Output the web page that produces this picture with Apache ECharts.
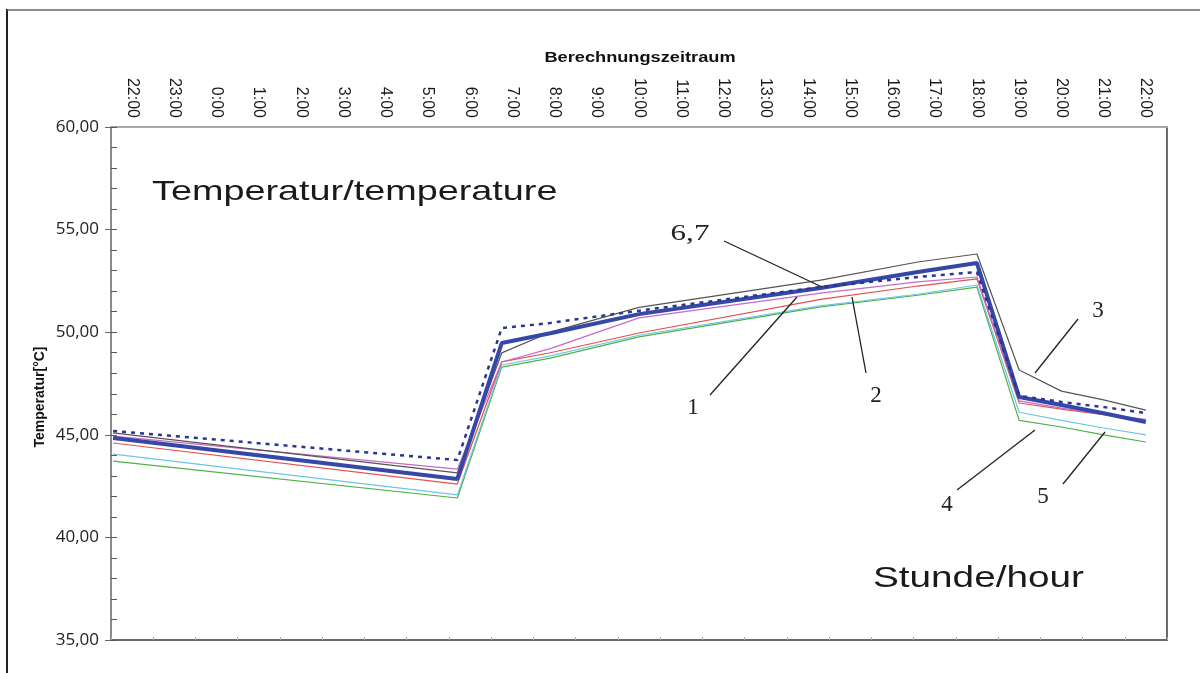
<!DOCTYPE html>
<html>
<head>
<meta charset="utf-8">
<script src="https://cdn.jsdelivr.net/npm/echarts@6/dist/echarts.min.js"></script>
<style>
  html, body { margin: 0; padding: 0; background: #ffffff; }
  #chart { width: 1200px; height: 673px; }
</style>
</head>
<body>
<div id="chart"></div>
<script>
// ---- Data ----
const hourLabels = ['22:00','23:00','0:00','1:00','2:00','3:00','4:00','5:00','6:00','7:00','8:00','9:00','10:00',
  '11:00','12:00','13:00','14:00','15:00','16:00','17:00','18:00','19:00','20:00','21:00','22:00'];
// sample positions in hours after the first 22:00 label
const tHours = [-0.45, 7.7, 8.75, 9.9, 12, 16.3, 18.6, 20, 21, 22, 23, 24];
const lineGreen = [43.72, 41.92, 48.30, 48.74, 49.77, 51.23, 51.80, 52.20, 45.70, 45.38, 45.00, 44.65];
const lineCyan  = [44.06, 42.07, 48.40, 48.85, 49.85, 51.28, 51.85, 52.30, 46.10, 45.70, 45.33, 45.00];
const lineRed   = [44.60, 42.60, 48.55, 49.00, 49.96, 51.60, 52.25, 52.60, 46.55, 46.25, 45.98, 45.72];
const linePink  = [44.94, 43.33, 48.55, 49.20, 50.70, 51.90, 52.45, 52.69, 46.65, 46.30, 46.00, 45.75];
const lineGray  = [45.09, 43.14, 48.99, 50.00, 51.21, 52.54, 53.42, 53.81, 48.16, 47.13, 46.70, 46.20];
const lineThick = [44.84, 42.85, 49.47, 49.95, 50.88, 52.15, 52.93, 53.37, 46.84, 46.45, 46.05, 45.62];
const lineDot   = [45.19, 43.77, 50.20, 50.45, 51.05, 52.20, 52.69, 52.93, 46.90, 46.60, 46.35, 46.06];
const yTicks = [35, 40, 45, 50, 55, 60];

const pairs = vals => tHours.map((t, i) => [t, vals[i]]);

const chart = echarts.init(document.getElementById('chart'), null, { renderer: 'canvas' });

function thin(name, data, color) {
  return { name, type: 'line', xAxisIndex: 1, yAxisIndex: 0, data: pairs(data), symbol: 'none',
    lineStyle: { color, width: 1.2 }, z: 2, silent: true };
}

const option = {
  animation: false,
  backgroundColor: '#ffffff',
  textStyle: { fontFamily: 'Liberation Sans, Arial, sans-serif' },
  grid: { left: 111, right: 33, top: 127, bottom: 33, containLabel: false, outerBoundsMode: 'none' },
  xAxis: [
    { type: 'category', position: 'top', data: hourLabels, boundaryGap: true,
      axisLine: { show: true, onZero: false, lineStyle: { color: '#a8a8a8', width: 2 } },
      axisTick: { show: false },
      axisLabel: { rotate: 90, interval: 0, fontSize: 16, fontFamily: 'Liberation Sans', color: '#1a1a1a', margin: 9 },
      splitLine: { show: false } },
    { type: 'value', min: -0.5, max: 24.5, show: false, position: 'bottom', axisLine: { onZero: false } },
    { type: 'category', position: 'bottom', data: hourLabels, boundaryGap: true,
      axisLine: { show: true, onZero: false, lineStyle: { color: '#6a6a6a', width: 2 } },
      axisTick: { show: true, inside: true, length: 3, interval: 0, lineStyle: { color: '#aaaaaa' } },
      axisLabel: { show: false }, splitLine: { show: false } }
  ],
  yAxis: [
    { type: 'value', min: yTicks[0], max: yTicks[yTicks.length - 1], interval: 5, position: 'left',
      axisLine: { show: true, onZero: false, lineStyle: { color: '#8a8a8a', width: 2 } },
      axisTick: { show: true, length: 6, lineStyle: { color: '#666' } },
      axisLabel: { fontFamily: 'Open Sans', fontSize: 17, color: '#222', margin: 12,
        formatter: v => v.toFixed(2).replace('.', ',') },
      splitLine: { show: false } },
    { type: 'value', min: yTicks[0], max: yTicks[yTicks.length - 1], interval: 1, position: 'left',
      axisLine: { show: false, onZero: false },
      axisTick: { show: true, inside: true, length: 6, lineStyle: { color: '#555' } },
      axisLabel: { show: false }, splitLine: { show: false } },
    { type: 'value', min: yTicks[0], max: yTicks[yTicks.length - 1], position: 'right',
      axisLine: { show: true, onZero: false, lineStyle: { color: '#6a6a6a', width: 2 } },
      axisTick: { show: false }, axisLabel: { show: false }, splitLine: { show: false } }
  ],
  series: [
    thin('5', lineGreen, '#4fb043'),
    thin('4', lineCyan, '#6cc6e6'),
    thin('2', lineRed, '#e4504e'),
    thin('1', linePink, '#c86ac8'),
    thin('3', lineGray, '#555555'),
    { name: '6', type: 'line', xAxisIndex: 1, yAxisIndex: 0, data: pairs(lineThick), symbol: 'none',
      lineStyle: { color: '#3548a8', width: 4 }, z: 3, silent: true },
    { name: '7', type: 'line', xAxisIndex: 1, yAxisIndex: 0, data: pairs(lineDot), symbol: 'none',
      lineStyle: { color: '#2a368f', width: 2.5, type: [4, 5] }, z: 4, silent: true }
  ],
  graphic: [
    // outer frame
    { type: 'line', shape: { x1: 7, y1: 9, x2: 7, y2: 673 }, style: { stroke: '#222', lineWidth: 2 }, z: 50 },
    { type: 'line', shape: { x1: 7, y1: 10, x2: 1200, y2: 10 }, style: { stroke: '#666', lineWidth: 1.5 }, z: 50 },
    // axis titles
    { type: 'text', x: 640, y: 58, scaleX: 1.3, z: 50,
      style: { text: 'Berechnungszeitraum', font: 'bold 14px "Liberation Sans", Arial, sans-serif', fill: '#111',
        textAlign: 'center', textVerticalAlign: 'middle' } },
    { type: 'text', x: 40, y: 397, rotation: Math.PI / 2, z: 50,
      style: { text: 'Temperatur[°C]', font: 'bold 14px "Liberation Sans", Arial, sans-serif', fill: '#111',
        textAlign: 'center', textVerticalAlign: 'middle' } },
    // big labels
    { type: 'text', x: 152, y: 192, scaleX: 1.35, z: 50,
      style: { text: 'Temperatur/temperature', font: '28px "Liberation Sans", Arial, sans-serif', fill: '#1a1a1a',
        textAlign: 'left', textVerticalAlign: 'middle' } },
    { type: 'text', x: 873, y: 579, scaleX: 1.29, z: 50,
      style: { text: 'Stunde/hour', font: '30px "Liberation Sans", Arial, sans-serif', fill: '#1a1a1a',
        textAlign: 'left', textVerticalAlign: 'middle' } },
    // annotation numbers
    { type: 'text', x: 690, y: 234, scaleX: 1.35, z: 50,
      style: { text: '6,7', font: '23px "Liberation Serif", serif', fill: '#222', textAlign: 'center', textVerticalAlign: 'middle' } },
    { type: 'text', x: 693, y: 408, z: 50,
      style: { text: '1', font: '23px "Liberation Serif", serif', fill: '#222', textAlign: 'center', textVerticalAlign: 'middle' } },
    { type: 'text', x: 876, y: 396, z: 50,
      style: { text: '2', font: '23px "Liberation Serif", serif', fill: '#222', textAlign: 'center', textVerticalAlign: 'middle' } },
    { type: 'text', x: 1098, y: 311, z: 50,
      style: { text: '3', font: '23px "Liberation Serif", serif', fill: '#222', textAlign: 'center', textVerticalAlign: 'middle' } },
    { type: 'text', x: 947, y: 505, z: 50,
      style: { text: '4', font: '23px "Liberation Serif", serif', fill: '#222', textAlign: 'center', textVerticalAlign: 'middle' } },
    { type: 'text', x: 1043, y: 497, z: 50,
      style: { text: '5', font: '23px "Liberation Serif", serif', fill: '#222', textAlign: 'center', textVerticalAlign: 'middle' } },
    // leader lines
    { type: 'line', shape: { x1: 724, y1: 241, x2: 822, y2: 287 }, style: { stroke: '#222', lineWidth: 1.3 }, z: 50 },
    { type: 'line', shape: { x1: 710, y1: 395, x2: 797, y2: 297 }, style: { stroke: '#222', lineWidth: 1.3 }, z: 50 },
    { type: 'line', shape: { x1: 866, y1: 373, x2: 852, y2: 297 }, style: { stroke: '#222', lineWidth: 1.3 }, z: 50 },
    { type: 'line', shape: { x1: 1078, y1: 319, x2: 1035, y2: 373 }, style: { stroke: '#222', lineWidth: 1.3 }, z: 50 },
    { type: 'line', shape: { x1: 957, y1: 490, x2: 1035, y2: 430 }, style: { stroke: '#222', lineWidth: 1.3 }, z: 50 },
    { type: 'line', shape: { x1: 1063, y1: 484, x2: 1105, y2: 432 }, style: { stroke: '#222', lineWidth: 1.3 }, z: 50 }
  ]
};

chart.setOption(option);
</script>
</body>
</html>
